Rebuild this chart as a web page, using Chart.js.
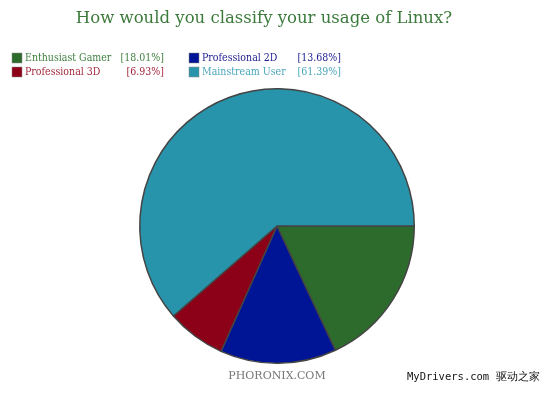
<!DOCTYPE html>
<html>
<head>
<meta charset="utf-8">
<script src="https://cdn.jsdelivr.net/npm/chart.js@4/dist/chart.umd.min.js"></script>
<style>
  html, body { margin: 0; padding: 0; background: #fff; }
  #wrap { position: relative; width: 550px; height: 393px; }
</style>
</head>
<body>
<div id="wrap"><canvas id="pieChart" width="550" height="393"></canvas></div>
<script>
// Dados do gráfico
const categories = ['Enthusiast Gamer', 'Professional 2D', 'Professional 3D', 'Mainstream User'];
const shares = [18.01, 13.68, 6.93, 61.39];
const sliceColors = ['#2d6b2d', '#001595', '#8c0018', '#2894ab'];
const labelColors = ['#3f7f3f', '#1b1b8f', '#a3283c', '#4aa5bb'];

// Legenda e textos desenhados no canvas
const overlayText = {
    id: 'overlayText',
    afterDraw(chart) {
        const ctx = chart.ctx;
        ctx.save();

        ctx.fillStyle = '#3b7a3b';
        ctx.font = '16.5px "DejaVu Serif", serif';
        ctx.textAlign = 'center';
        ctx.textBaseline = 'middle';
        ctx.fillText('How would you classify your usage of Linux?', 264, 19);

        // legenda em duas colunas: [0,1] na primeira linha, [2,3] na segunda
        const cells = [
            { i: 0, x: 12, y: 58, right: 164 },
            { i: 1, x: 189, y: 58, right: 341 },
            { i: 2, x: 12, y: 72, right: 164 },
            { i: 3, x: 189, y: 72, right: 341 }
        ];
        ctx.font = '10.5px "DejaVu Serif Condensed", "DejaVu Serif", serif';
        ctx.textBaseline = 'middle';
        cells.forEach(c => {
            ctx.fillStyle = sliceColors[c.i];
            ctx.fillRect(c.x, c.y - 5, 10, 10);
            ctx.strokeStyle = '#888';
            ctx.lineWidth = 0.5;
            ctx.strokeRect(c.x, c.y - 5, 10, 10);
            ctx.fillStyle = labelColors[c.i];
            ctx.textAlign = 'left';
            ctx.fillText(categories[c.i], c.x + 13, c.y);
            ctx.textAlign = 'right';
            ctx.fillText('[' + shares[c.i].toFixed(2) + '%]', c.right, c.y);
        });

        ctx.fillStyle = '#777';
        ctx.font = '11px "DejaVu Serif", serif';
        ctx.textAlign = 'center';
        ctx.fillText('PHORONIX.COM', 277, 376);

        ctx.fillStyle = '#111';
        ctx.font = '10.5px "DejaVu Sans Mono", monospace';
        ctx.textAlign = 'left';
        ctx.fillText('MyDrivers.com 驱动之家', 407, 377);

        ctx.restore();
    }
};

const ctx = document.getElementById('pieChart').getContext('2d');
new Chart(ctx, {
    type: 'pie',
    data: {
        labels: categories,
        datasets: [{
            data: shares,
            backgroundColor: sliceColors,
            borderColor: '#444',
            borderWidth: 1.5
        }]
    },
    options: {
        responsive: false,
        animation: false,
        rotation: 90,
        layout: { padding: { top: 88, bottom: 29, left: 4, right: 0 } },
        plugins: {
            legend: { display: false },
            tooltip: { enabled: false },
            title: { display: false }
        }
    },
    plugins: [overlayText]
});
</script>
</body>
</html>
